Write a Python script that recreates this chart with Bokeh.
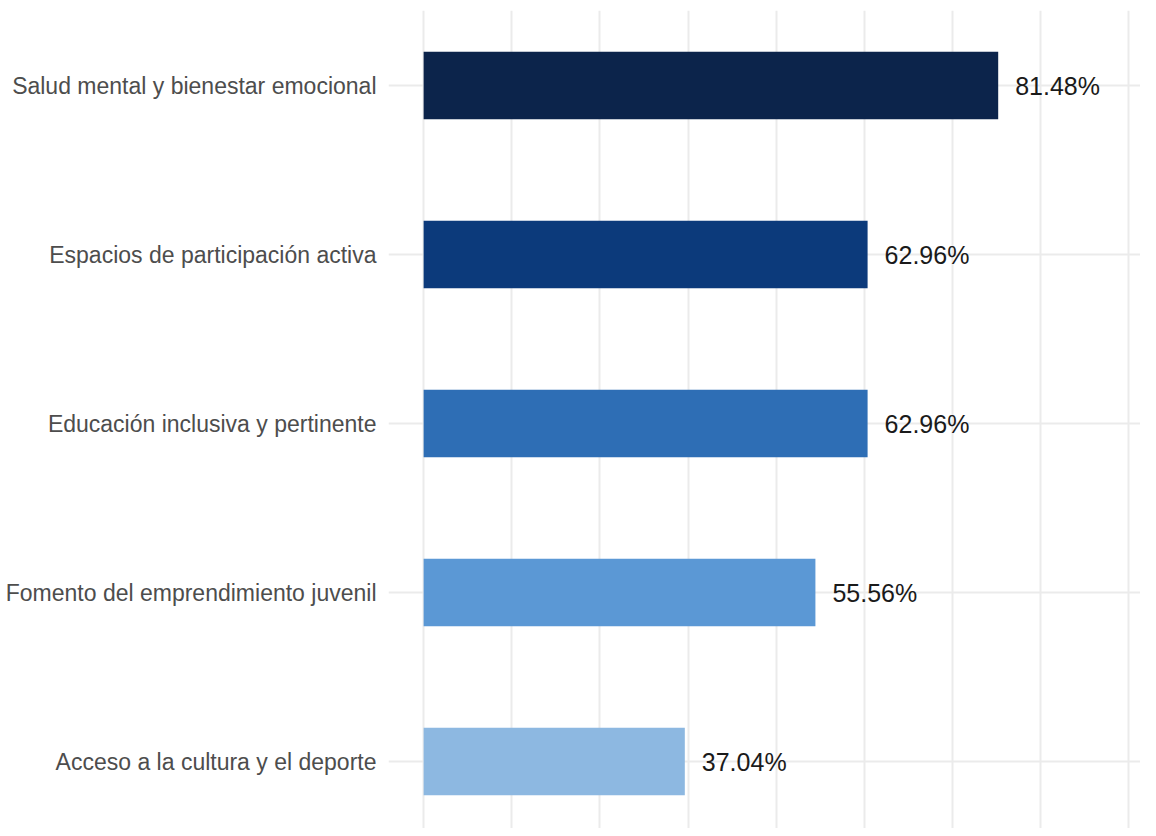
import numpy as np
from bokeh.plotting import figure
from bokeh.models import ColumnDataSource, Range1d, FixedTicker
from bokeh.core.properties import value
from bokeh.embed import file_html
from bokeh.resources import INLINE

# Data (top to bottom)
categories = [
    "Salud mental y bienestar emocional",
    "Espacios de participación activa",
    "Educación inclusiva y pertinente",
    "Fomento del emprendimiento juvenil",
    "Acceso a la cultura y el deporte",
]
percentages = [81.48, 62.96, 62.96, 55.56, 37.04]
labels = ["81.48%", "62.96%", "62.96%", "55.56%", "37.04%"]
colors = ["#0C244B", "#0C3A7B", "#2E6EB5", "#5B98D5", "#8DB8E1"]
grid_ticks = [0, 12.5, 25, 37.5, 50, 62.5, 75, 87.5, 100]

n = len(categories)
ypos = list(np.arange(n, 0, -1).astype(float))

src = ColumnDataSource(dict(y=ypos, v=percentages, lab=labels, col=colors, cat=categories))

p = figure(width=1140, height=828, output_backend="svg", toolbar_location=None,
           x_range=Range1d(-4.98, 101.66), y_range=Range1d(0.604, 5.444),
           min_border_left=388, min_border_right=0, min_border_top=10, min_border_bottom=0)
p.outline_line_color = None
p.background_fill_color = "white"
p.border_fill_color = "white"

p.hbar(y="y", left=0, right="v", height=0.4, fill_color="col", line_color=None, source=src)
p.text(x="v", y="y", text="lab", source=src, x_offset=17, text_align="left",
       text_baseline="middle", text_font=value("Liberation Sans"),
       text_font_size="25px", text_color="#1A1A1A")

p.xaxis.visible = False
p.xgrid.ticker = FixedTicker(ticks=grid_ticks)
p.xgrid.grid_line_color = "#EBEBEB"
p.xgrid.grid_line_width = 2

p.yaxis.ticker = FixedTicker(ticks=ypos)
p.yaxis.major_label_overrides = {y: c for y, c in zip(ypos, categories)}
p.yaxis.axis_line_color = None
p.yaxis.major_tick_line_color = None
p.yaxis.minor_tick_line_color = None
p.yaxis.major_tick_out = 0
p.yaxis.major_tick_in = 0
p.yaxis.minor_tick_out = 0
p.yaxis.major_label_standoff = 12
p.yaxis.major_label_text_font = "Liberation Sans"
p.yaxis.major_label_text_font_size = "23px"
p.yaxis.major_label_text_color = "#4D4D4D"
p.ygrid.ticker = FixedTicker(ticks=ypos)
p.ygrid.grid_line_color = "#EBEBEB"
p.ygrid.grid_line_width = 2

open("out.html", "w").write(file_html(p, INLINE))
